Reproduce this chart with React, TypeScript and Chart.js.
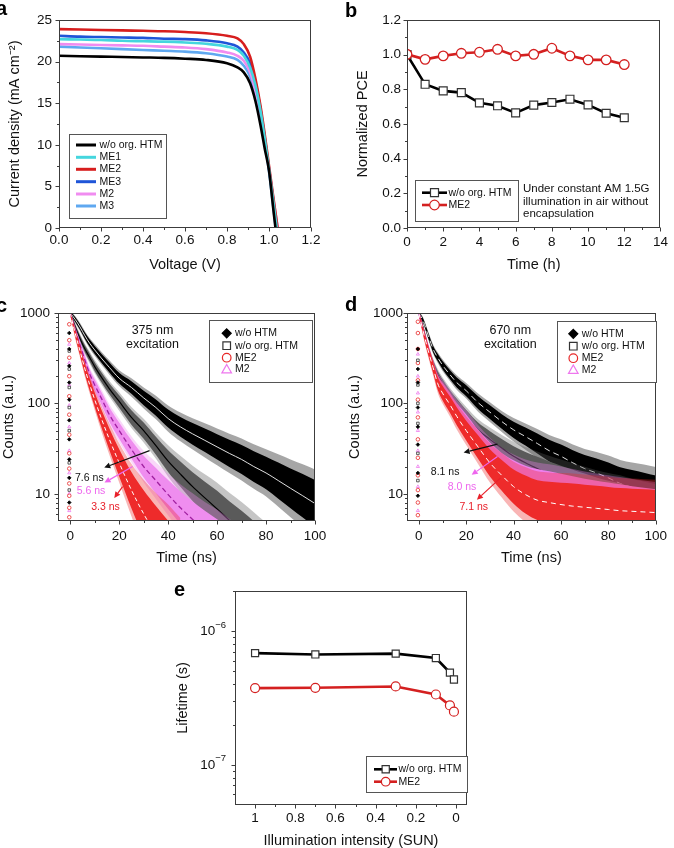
import React, { useEffect, useRef } from 'react';
import { Chart, registerables } from 'chart.js';
Chart.register(...registerables);

const FONT = "'Liberation Sans', Arial, Helvetica, sans-serif";

// ---------------- Panel a: J-V curves ----------------
const VOLT = [0, 0.1, 0.2, 0.3, 0.4, 0.5, 0.6, 0.7, 0.8, 0.85, 0.88, 0.91, 0.935, 0.96, 0.98, 1.0, 1.02, 1.04, 1.06];
const J_WO = [20.7, 20.65, 20.6, 20.55, 20.5, 20.45, 20.35, 20.2, 19.8, 19.3, 18.7, 17.4, 15.3, 12.3, 9.5, 6.9, 2.4, -2, -6];
const J_ME1 = [22.7, 22.65, 22.6, 22.5, 22.45, 22.4, 22.3, 22.15, 21.8, 21.4, 20.7, 19.3, 17.2, 14.0, 10.7, 7.1, 3.3, -0.6, -4.5];
const J_ME2 = [23.9, 23.85, 23.8, 23.75, 23.7, 23.65, 23.55, 23.4, 23.1, 22.8, 22.1, 20.6, 18.0, 14.6, 11.2, 7.5, 3.8, 0.2, -3.5];
const J_ME3 = [23.1, 23.0, 22.95, 22.9, 22.85, 22.75, 22.7, 22.55, 22.2, 21.8, 21.1, 19.8, 17.6, 14.2, 10.8, 7.2, 3.4, -0.8, -4.8];
const J_M2 = [22.1, 22.05, 22.0, 21.95, 21.9, 21.8, 21.7, 21.5, 21.1, 20.7, 20.1, 18.7, 16.5, 13.5, 10.4, 7.1, 3.6, 0.3, -3];
const J_M3 = [21.8, 21.7, 21.6, 21.5, 21.4, 21.3, 21.2, 21.0, 20.6, 20.2, 19.5, 18.2, 16.0, 13.3, 10.3, 6.8, 2.6, -1.5, -5];
const JV_LABELS = ['w/o org. HTM', 'ME1', 'ME2', 'ME3', 'M2', 'M3'];
const JV_X_TICKS = [0, 0.2, 0.4, 0.6, 0.8, 1.0, 1.2];
const JV_Y_TICKS = [0, 5, 10, 15, 20, 25];

// ---------------- Panel b: stability ----------------
const HOURS = [0, 1, 2, 3, 4, 5, 6, 7, 8, 9, 10, 11, 12];
const PCE_WO = [1.0, 0.829, 0.791, 0.781, 0.722, 0.705, 0.664, 0.709, 0.724, 0.743, 0.71, 0.662, 0.636];
const PCE_ME2 = [1.002, 0.973, 0.993, 1.008, 1.014, 1.031, 0.993, 1.002, 1.037, 0.993, 0.97, 0.97, 0.943];
const B_X_TICKS = [0, 2, 4, 6, 8, 10, 12, 14];
const B_Y_TICKS = [0, 0.2, 0.4, 0.6, 0.8, 1.0, 1.2];
const B_NOTE = ['Under constant AM 1.5G', 'illumination in air without', 'encapsulation'];

// ---------------- Panels c, d: TRPL ----------------
const TPL = [0, 2, 4, 6, 8, 10, 13, 16, 20, 25, 30, 35, 40, 45, 50, 55, 60, 65, 70, 75, 80, 85, 90, 95, 100];
const N = null;
// panel c (375 nm): decay centre and noise half-width (decades)
const C_WO_HTM = [1000, 850, 700, 560, 460, 390, 310, 250, 190, 150, 115, 90, 68, 55, 46, 39, 33, 28, 24, 20, 17, 14, 11.5, 9.5, 7.8];
const C_WO_HTM_W = [0.02, 0.025, 0.03, 0.035, 0.04, 0.045, 0.05, 0.055, 0.06, 0.07, 0.08, 0.09, 0.1, 0.11, 0.12, 0.13, 0.14, 0.15, 0.16, 0.17, 0.18, 0.2, 0.22, 0.24, 0.26];
const C_WO_ORG = [1000, 700, 520, 400, 320, 255, 190, 145, 105, 70, 50, 34, 23, 16.5, 12, 9, 6.8, 5.1, 3.9, 3, 2.3, 1.8, 1.4, 1.1, 0.85];
const C_WO_ORG_W = [0.02, 0.03, 0.035, 0.04, 0.045, 0.05, 0.055, 0.06, 0.07, 0.08, 0.09, 0.1, 0.12, 0.14, 0.16, 0.18, 0.2, 0.21, 0.22, 0.22, 0.22, 0.22, 0.22, 0.22, 0.22];
const C_ME2 = [1000, 600, 380, 240, 160, 110, 65, 40, 22, 11, 6, 3.5, 2, 1.2, N, N, N, N, N, N, N, N, N, N, N];
const C_ME2_W = [0.02, 0.04, 0.05, 0.06, 0.07, 0.08, 0.1, 0.12, 0.15, 0.2, 0.26, 0.32, 0.4, 0.45, N, N, N, N, N, N, N, N, N, N, N];
const C_M2 = [1000, 650, 440, 300, 210, 160, 110, 75, 50, 31, 20, 14, 9.8, 7, 5.2, 3.9, 3, 2.3, 1.8, N, N, N, N, N, N];
const C_M2_W = [0.02, 0.03, 0.04, 0.05, 0.05, 0.06, 0.07, 0.08, 0.09, 0.1, 0.12, 0.14, 0.16, 0.18, 0.2, 0.22, 0.24, 0.25, 0.25, N, N, N, N, N, N];
// panel d (670 nm)
const D_WO_HTM = [1000, 800, 560, 400, 320, 265, 210, 170, 138, 102, 80, 63, 51, 43, 36, 30, 26, 22, 19, 17, 15, 13, 11.8, 10.8, 9.8];
const D_WO_HTM_W = [0.02, 0.025, 0.03, 0.035, 0.04, 0.045, 0.05, 0.055, 0.06, 0.07, 0.075, 0.08, 0.09, 0.1, 0.11, 0.12, 0.13, 0.14, 0.15, 0.16, 0.17, 0.18, 0.19, 0.2, 0.21];
const D_WO_ORG = [1000, 650, 400, 275, 205, 165, 125, 98, 72, 51, 40, 32, 26, 22, 19, 16.5, 14.5, 12.8, 11.3, 10, 9, 8.2, 7.5, 7, 6.6];
const D_WO_ORG_W = [0.02, 0.03, 0.035, 0.04, 0.045, 0.05, 0.055, 0.06, 0.07, 0.08, 0.09, 0.1, 0.11, 0.12, 0.13, 0.14, 0.15, 0.16, 0.17, 0.18, 0.19, 0.2, 0.2, 0.2, 0.2];
const D_ME2 = [1000, 600, 380, 250, 165, 130, 98, 72, 50, 33, 22, 16, 12, 9.8, 8.5, 8, 7.6, 7.3, 7.1, 6.9, 6.7, 6.5, 6.4, 6.3, 6.2];
const D_ME2_W = [0.02, 0.04, 0.05, 0.06, 0.07, 0.08, 0.09, 0.1, 0.11, 0.13, 0.15, 0.17, 0.19, 0.21, 0.22, 0.23, 0.24, 0.25, 0.25, 0.25, 0.25, 0.25, 0.25, 0.25, 0.25];
const D_M2 = [1000, 620, 400, 260, 180, 145, 110, 82, 60, 40, 28, 21, 17, 14.5, 13, 12, 11, 10.3, 9.7, 9.2, 8.8, 8.4, 8, 7.7, 7.4];
const D_M2_W = [0.02, 0.03, 0.04, 0.05, 0.06, 0.07, 0.08, 0.09, 0.1, 0.11, 0.12, 0.13, 0.14, 0.15, 0.16, 0.17, 0.18, 0.18, 0.18, 0.18, 0.18, 0.18, 0.18, 0.18, 0.18];
// rising-edge points near t = 0
const SPIKE_T = -0.4;
const SPK_C_WO_HTM = [8, 15, 24, 40, 65, 110, 170, 260, 400, 600];
const SPK_C_WO_ORG = [11, 22, 50, 90, 150, 240, 380];
const SPK_C_ME2 = [5.5, 7, 9.5, 13, 19, 28, 45, 75, 120, 200, 320, 500, 750];
const SPK_C_M2 = [6.5, 10, 17, 30, 55, 95, 160, 280, 450];
const SPK_D_WO_HTM = [9.5, 17, 35, 55, 90, 170, 240, 400];
const SPK_D_WO_ORG = [14, 28, 60, 100, 160, 300];
const SPK_D_ME2 = [5.8, 8, 11, 16, 25, 40, 70, 110, 180, 280, 400, 600, 800];
const SPK_D_M2 = [6.5, 12, 20, 30, 50, 80, 130, 200, 350];
const TRPL_LABELS = ['w/o HTM', 'w/o org. HTM', 'ME2', 'M2'];
const TRPL_X_TICKS = [0, 20, 40, 60, 80, 100];
const TRPL_Y_TICKS = [10, 100, 1000];
const TRPL_Y_MINOR = [6, 7, 8, 9, 20, 30, 40, 50, 60, 70, 80, 90, 200, 300, 400, 500, 600, 700, 800, 900];
const TRPL_X_MINOR = [10, 30, 50, 70, 90];
const C_ARROWS = [
  { from: [32.4, 30], to: [13.9, 19.5], label: '7.6 ns', at: [7.8, 15.1], color: '#111111', text: '#111111' },
  { from: [25.5, 20], to: [14, 13.3], label: '5.6 ns', at: [8.5, 10.6], color: '#ee66ee', text: '#ee66ee' },
  { from: [21.4, 12], to: [18, 9], label: '3.3 ns', at: [14.4, 7.1], color: '#e8202a', text: '#e8202a' },
];
const D_ARROWS = [
  { from: [33.2, 35.4], to: [18.9, 28.6], label: '8.1 ns', at: [11.1, 17.5], color: '#111111', text: '#111111' },
  { from: [33.2, 25.8], to: [22.3, 16.2], label: '8.0 ns', at: [18.2, 12], color: '#ee66ee', text: '#ee66ee' },
  { from: [34.5, 15], to: [24.5, 8.6], label: '7.1 ns', at: [23.2, 7.2], color: '#e8202a', text: '#e8202a' },
];

// ---------------- Panel e: lifetime ----------------
const SUN = [1, 0.7, 0.3, 0.1, 0.03, 0.01];
const LIFE_WO = [6.85e-7, 6.7e-7, 6.8e-7, 6.3e-7, 4.9e-7, 4.35e-7];
const LIFE_ME2 = [3.75e-7, 3.77e-7, 3.86e-7, 3.36e-7, 2.78e-7, 2.5e-7];
const E_X_TICKS = [1, 0.8, 0.6, 0.4, 0.2, 0];
const E_Y_TICKS = [1e-7, 1e-6];
const E_Y_EXP = ['−7', '−6'];
const E_Y_MINOR = [6e-8, 7e-8, 8e-8, 9e-8, 2e-7, 3e-7, 4e-7, 5e-7, 6e-7, 7e-7, 8e-7, 9e-7, 2e-6];

// ---------------- helpers ----------------
function mkScale(o: any) {
  return {
    type: o.type || 'linear',
    min: o.min,
    max: o.max,
    reverse: !!o.reverse,
    afterBuildTicks: (s: any) => { s.ticks = o.ticks.map((v: number) => ({ value: v })); },
    afterFit: (s: any) => { if (o.isY) s.width = o.size; else s.height = o.size; },
    grid: { display: false, drawTicks: false },
    border: { display: false },
    ticks: {
      padding: o.pad, color: '#111', autoSkip: false, maxRotation: 0, minRotation: 0,
      font: { family: FONT, size: 13.5 },
      callback: (v: any) => o.fmt(Number(v)),
    },
    title: {
      display: true, text: o.title, color: '#111', font: { family: FONT, size: 14.5 },
      padding: o.isY ? { top: o.titlePad, bottom: 0 } : { top: 0, bottom: o.titlePad },
    },
  };
}

function baseOptions(padding: any, x: any, y: any) {
  return {
    responsive: false,
    animation: false,
    events: [],
    layout: { padding },
    plugins: { legend: { display: false }, tooltip: { enabled: false } },
    scales: { x, y },
  };
}

function frameTicks(xMaj: number[], xMin: number[], yMaj: number[], yMin: number[]) {
  return {
    id: 'frameTicks',
    afterDatasetsDraw(chart: any) {
      const { ctx, chartArea: a, scales } = chart;
      const xs = scales.x, ys = scales.y;
      const L = Math.round(a.left) + 0.5, R = Math.round(a.right) - 0.5;
      const T = Math.round(a.top) + 0.5, B = Math.round(a.bottom) - 0.5;
      ctx.save();
      ctx.strokeStyle = '#3c3c3c';
      ctx.lineWidth = 1;
      ctx.strokeRect(L, T, R - L, B - T);
      ctx.beginPath();
      xMaj.forEach((v) => { const p = Math.round(xs.getPixelForValue(v)) + 0.5; ctx.moveTo(p, B); ctx.lineTo(p, B + 4); });
      xMin.forEach((v) => { const p = Math.round(xs.getPixelForValue(v)) + 0.5; ctx.moveTo(p, B); ctx.lineTo(p, B + 2.5); });
      yMaj.forEach((v) => { const p = Math.round(ys.getPixelForValue(v)) + 0.5; ctx.moveTo(L, p); ctx.lineTo(L - 4, p); });
      yMin.forEach((v) => { const p = Math.round(ys.getPixelForValue(v)) + 0.5; ctx.moveTo(L, p); ctx.lineTo(L - 2.5, p); });
      ctx.stroke();
      ctx.restore();
    },
  };
}

function drawMarker(ctx: any, kind: string, x: number, y: number, color: string, fill: string | null, s: number) {
  ctx.save();
  ctx.beginPath();
  if (kind === 'square') ctx.rect(x - s, y - s, 2 * s, 2 * s);
  else if (kind === 'circle') ctx.arc(x, y, s, 0, Math.PI * 2);
  else if (kind === 'diamond') { ctx.moveTo(x, y - s); ctx.lineTo(x + s, y); ctx.lineTo(x, y + s); ctx.lineTo(x - s, y); ctx.closePath(); }
  else if (kind === 'triangle') { ctx.moveTo(x, y - s); ctx.lineTo(x + s, y + s * 0.75); ctx.lineTo(x - s, y + s * 0.75); ctx.closePath(); }
  if (fill) { ctx.fillStyle = fill; ctx.fill(); }
  ctx.strokeStyle = color; ctx.lineWidth = 1.2; ctx.stroke();
  ctx.restore();
}

function legendBox(ctx: any, x0: number, y0: number, x1: number, y1: number) {
  ctx.save();
  ctx.fillStyle = '#ffffff';
  ctx.fillRect(x0, y0, x1 - x0, y1 - y0);
  ctx.strokeStyle = '#555';
  ctx.lineWidth = 1;
  ctx.strokeRect(Math.round(x0) + 0.5, Math.round(y0) + 0.5, Math.round(x1 - x0), Math.round(y1 - y0));
  ctx.restore();
}

function text(ctx: any, s: string, x: number, y: number, size: number, color: string, align: string) {
  ctx.save();
  ctx.font = `${size}px ${FONT}`;
  ctx.fillStyle = color;
  ctx.textAlign = align;
  ctx.textBaseline = 'middle';
  ctx.fillText(s, x, y);
  ctx.restore();
}

function arrow(ctx: any, x1: number, y1: number, x2: number, y2: number, color: string) {
  const ang = Math.atan2(y2 - y1, x2 - x1);
  const hl = 6, hw = 3;
  const bx = x2 - hl * Math.cos(ang), by = y2 - hl * Math.sin(ang);
  ctx.save();
  ctx.strokeStyle = color; ctx.fillStyle = color; ctx.lineWidth = 1.2;
  ctx.beginPath(); ctx.moveTo(x1, y1); ctx.lineTo(bx, by); ctx.stroke();
  ctx.beginPath();
  ctx.moveTo(x2, y2);
  ctx.lineTo(bx - hw * Math.sin(ang), by + hw * Math.cos(ang));
  ctx.lineTo(bx + hw * Math.sin(ang), by - hw * Math.cos(ang));
  ctx.closePath(); ctx.fill();
  ctx.restore();
}

function hexA(hex: string, a: number) {
  const r = parseInt(hex.slice(1, 3), 16), g = parseInt(hex.slice(3, 5), 16), b = parseInt(hex.slice(5, 7), 16);
  return `rgba(${r},${g},${b},${a})`;
}

// ---------------- chart builders ----------------
const JV_COLORS = ['#000000', '#45d6de', '#d71e1e', '#1f55d8', '#f08cf0', '#5fa8f0'];

function makeA() {
  const series = [J_WO, J_ME1, J_ME2, J_ME3, J_M2, J_M3];
  const datasets = series.map((ys, k) => ({
    label: JV_LABELS[k],
    data: VOLT.map((v, i) => ({ x: v, y: ys[i] })),
    borderColor: JV_COLORS[k], borderWidth: 2.6, pointRadius: 0, fill: false,
    cubicInterpolationMode: 'monotone',
  }));
  const legend = {
    id: 'legA',
    afterDraw(chart: any) {
      const ctx = chart.ctx;
      legendBox(ctx, 69, 134, 166, 218);
      const rows = [145, 157.3, 169.3, 181.7, 194, 206];
      rows.forEach((ry, k) => {
        ctx.save(); ctx.strokeStyle = JV_COLORS[k]; ctx.lineWidth = 3;
        ctx.beginPath(); ctx.moveTo(76, ry); ctx.lineTo(96, ry); ctx.stroke(); ctx.restore();
        text(ctx, JV_LABELS[k], 99.5, ry, 10.5, '#111', 'left');
      });
    },
  };
  return {
    type: 'line',
    data: { datasets },
    options: baseOptions({ left: 0, top: 20, right: 26, bottom: 0 },
      mkScale({ min: 0, max: 1.2, ticks: JV_X_TICKS, fmt: (v: number) => v.toFixed(1), title: 'Voltage (V)', size: 52, isY: false, pad: 4, titlePad: 6 }),
      mkScale({ min: 0, max: 25, ticks: JV_Y_TICKS, fmt: (v: number) => String(v), title: 'Current density (mA cm⁻²)', size: 59, isY: true, pad: 7, titlePad: 6 })),
    plugins: [frameTicks(JV_X_TICKS, [0.1, 0.3, 0.5, 0.7, 0.9, 1.1], JV_Y_TICKS, [2.5, 7.5, 12.5, 17.5, 22.5]), legend],
  };
}

function makeB() {
  const datasets = [
    { label: 'ME2', data: HOURS.map((h, i) => ({ x: h, y: PCE_ME2[i] })), borderColor: '#d42020', borderWidth: 2.6,
      pointStyle: 'circle', pointRadius: 4.8, pointBorderWidth: 1.3, pointBackgroundColor: '#fff', pointBorderColor: '#d42020', fill: false, order: 0 },
    { label: 'w/o org. HTM', data: HOURS.map((h, i) => ({ x: h, y: PCE_WO[i] })), borderColor: '#000', borderWidth: 2.6,
      pointStyle: 'rect', pointRadius: 5.6, pointBorderWidth: 1.2, pointBackgroundColor: '#fff', pointBorderColor: '#333', fill: false, order: 1 },
  ];
  const legend = {
    id: 'legB',
    afterDraw(chart: any) {
      const ctx = chart.ctx;
      legendBox(ctx, 78, 180, 181, 221);
      const items = [
        { y: 192.7, c: '#000', m: 'square', mc: '#333', lab: 'w/o org. HTM', s: 4 },
        { y: 205, c: '#d42020', m: 'circle', mc: '#d42020', lab: 'ME2', s: 4.8 },
      ];
      items.forEach((it) => {
        ctx.save(); ctx.strokeStyle = it.c; ctx.lineWidth = 2.6;
        ctx.beginPath(); ctx.moveTo(85, it.y); ctx.lineTo(110, it.y); ctx.stroke(); ctx.restore();
        drawMarker(ctx, it.m, 97.5, it.y, it.mc, '#fff', it.s);
        text(ctx, it.lab, 111.5, it.y, 10.5, '#111', 'left');
      });
      [188.7, 201.7, 214.3].forEach((yy, k) => text(ctx, B_NOTE[k], 186, yy, 11.5, '#111', 'left'));
    },
  };
  return {
    type: 'line',
    data: { datasets },
    options: baseOptions({ left: 0, top: 20, right: 13, bottom: 0 },
      mkScale({ min: 0, max: 14, ticks: B_X_TICKS, fmt: (v: number) => String(v), title: 'Time (h)', size: 52, isY: false, pad: 6, titlePad: 6 }),
      mkScale({ min: 0, max: 1.2, ticks: B_Y_TICKS, fmt: (v: number) => v.toFixed(1), title: 'Normalized PCE', size: 70, isY: true, pad: 6, titlePad: 17 })),
    plugins: [frameTicks(B_X_TICKS, [1, 3, 5, 7, 9, 11, 13], B_Y_TICKS, [0.1, 0.3, 0.5, 0.7, 0.9, 1.1]), legend],
  };
}

function makeTRPL(isC: boolean) {
  const S = isC
    ? [
        { c: C_WO_HTM, w: C_WO_HTM_W, band: '#000000', fit: 'rgba(235,235,235,0.95)', dash: [], fw: 1, order: 4, spk: SPK_C_WO_HTM, ps: 'rectRot', pc: '#000', pf: '#000' },
        { c: C_WO_ORG, w: C_WO_ORG_W, band: '#5a5a5a', fit: '#000000', dash: [], fw: 1.2, order: 3, spk: SPK_C_WO_ORG, ps: 'rect', pc: '#333', pf: '#fff' },
        { c: C_ME2, w: C_ME2_W, band: '#ee2b2b', fit: '#ffffff', dash: [4, 3], fw: 1, order: 1, spk: SPK_C_ME2, ps: 'circle', pc: '#e82828', pf: '#fff' },
        { c: C_M2, w: C_M2_W, band: '#ef8def', fit: '#a020a0', dash: [5, 3], fw: 1.3, order: 2, spk: SPK_C_M2, ps: 'triangle', pc: '#ee77ee', pf: '#fff' },
      ]
    : [
        { c: D_WO_HTM, w: D_WO_HTM_W, band: '#000000', fit: 'rgba(235,235,235,0.95)', dash: [6, 4], fw: 1, order: 4, spk: SPK_D_WO_HTM, ps: 'rectRot', pc: '#000', pf: '#000' },
        { c: D_WO_ORG, w: D_WO_ORG_W, band: '#5a5a5a', fit: '#000000', dash: [], fw: 1.2, order: 3, spk: SPK_D_WO_ORG, ps: 'rect', pc: '#333', pf: '#fff' },
        { c: D_ME2, w: D_ME2_W, band: '#ee2b2b', fit: '#ffffff', dash: [5, 4], fw: 1, order: 1, spk: SPK_D_ME2, ps: 'circle', pc: '#e82828', pf: '#fff' },
        { c: D_M2, w: D_M2_W, band: '#ee80ee', fit: '#e02ee0', dash: [], fw: 1.5, order: 2, spk: SPK_D_M2, ps: 'triangle', pc: '#ee77ee', pf: '#fff' },
      ];
  const ds: any[] = [];
  const edge = (s: any, k: number) => TPL.map((t, i) => ({ x: t, y: s.c[i] == null ? null : s.c[i] * Math.pow(10, k * s.w[i]) }));
  S.forEach((s: any) => {
    // soft outer fringe (scattered noisy points) then dense core band
    [[1.45, 0.35, 0.2], [1, 1, 0.1]].forEach(([k, alpha, dOrd]) => {
      const iUp = ds.length;
      ds.push({
        data: edge(s, k), fill: iUp + 1, backgroundColor: hexA(s.band, alpha), borderWidth: 0,
        borderColor: 'rgba(0,0,0,0)', pointRadius: 0, order: s.order + dOrd, cubicInterpolationMode: 'monotone',
      });
      ds.push({
        data: edge(s, -k), fill: false, borderWidth: 0, borderColor: 'rgba(0,0,0,0)', pointRadius: 0,
        order: s.order + dOrd, cubicInterpolationMode: 'monotone',
      });
    });
    ds.push({
      data: TPL.map((t, i) => ({ x: t, y: s.c[i] })),
      fill: false, borderWidth: s.fw, borderColor: s.fit, borderDash: s.dash, pointRadius: 0,
      order: s.order - 0.5, cubicInterpolationMode: 'monotone',
    });
    ds.push({
      data: s.spk.map((v: number) => ({ x: SPIKE_T, y: v })),
      showLine: false, pointStyle: s.ps, pointRadius: 1.8, pointBorderWidth: 0.8,
      pointBorderColor: s.pc, pointBackgroundColor: s.pf, order: 0,
    });
  });
  const arrows = isC ? C_ARROWS : D_ARROWS;
  const title1 = isC ? '375 nm' : '670 nm';
  const titleT = isC ? 33.6 : 38.6;
  const lg = isC
    ? { x0: 209, y0: 35, x1: 312, y1: 97, mx: 226.7, tx: 235 }
    : { x0: 220, y0: 36, x1: 319, y1: 97, mx: 236.3, tx: 244.7 };
  const anno = {
    id: 'annoTRPL',
    afterDraw(chart: any) {
      const { ctx, scales } = chart;
      const xs = scales.x, ys = scales.y;
      const X = (v: number) => xs.getPixelForValue(v), Y = (v: number) => ys.getPixelForValue(v);
      text(ctx, title1, X(titleT), Y(637), 12.5, '#111', 'center');
      text(ctx, 'excitation', X(titleT), Y(443), 12.5, '#111', 'center');
      arrows.forEach((a: any) => {
        arrow(ctx, X(a.from[0]), Y(a.from[1]), X(a.to[0]), Y(a.to[1]), a.color);
        text(ctx, a.label, X(a.at[0]), Y(a.at[1]), 10.5, a.text, 'center');
      });
      legendBox(ctx, lg.x0, lg.y0, lg.x1, lg.y1);
      const rows = [48.3, 60.7, 72.7, 84.3].map((r) => r + (isC ? 0 : 0.5));
      drawMarker(ctx, 'diamond', lg.mx, rows[0], '#000', '#000', 4.5);
      drawMarker(ctx, 'square', lg.mx, rows[1], '#333', null, 3.8);
      drawMarker(ctx, 'circle', lg.mx, rows[2], '#e82828', null, 4.3);
      drawMarker(ctx, 'triangle', lg.mx, rows[3], '#ee77ee', null, 4.8);
      TRPL_LABELS.forEach((l, k) => text(ctx, l, lg.tx, rows[k], 10.5, '#111', 'left'));
    },
  };
  return {
    type: 'line',
    data: { datasets: ds },
    options: baseOptions(isC ? { left: 0, top: 28, right: 22, bottom: 0 } : { left: 0, top: 28, right: 11, bottom: 0 },
      mkScale({ min: -5, max: 100, ticks: TRPL_X_TICKS, fmt: (v: number) => String(v), title: 'Time (ns)', size: 49, isY: false, pad: 7, titlePad: 3.3 }),
      mkScale({ type: 'logarithmic', min: 5, max: 1000, ticks: TRPL_Y_TICKS, fmt: (v: number) => String(v), title: 'Counts (a.u.)', size: isC ? 58 : 70, isY: true, pad: isC ? 8 : 4, titlePad: isC ? 0 : 9.3 })),
    plugins: [frameTicks(TRPL_X_TICKS, TRPL_X_MINOR, TRPL_Y_TICKS, TRPL_Y_MINOR), anno],
  };
}

function makeE() {
  const datasets = [
    { label: 'ME2', data: SUN.map((s, i) => ({ x: s, y: LIFE_ME2[i] })), borderColor: '#d42020', borderWidth: 2.6,
      pointStyle: 'circle', pointRadius: 4.5, pointBorderWidth: 1.2, pointBackgroundColor: '#fff', pointBorderColor: '#d42020', fill: false, order: 0 },
    { label: 'w/o org. HTM', data: SUN.map((s, i) => ({ x: s, y: LIFE_WO[i] })), borderColor: '#000', borderWidth: 2.6,
      pointStyle: 'rect', pointRadius: 5, pointBorderWidth: 1.2, pointBackgroundColor: '#fff', pointBorderColor: '#333', fill: false, order: 1 },
  ];
  const extra = {
    id: 'legE',
    afterDraw(chart: any) {
      const ctx = chart.ctx;
      const a = chart.chartArea;
      const ys = chart.scales.y;
      // power-of-ten tick labels with superscript exponent
      E_Y_TICKS.forEach((v, k) => {
        const py = ys.getPixelForValue(v);
        ctx.save();
        ctx.font = `9.5px ${FONT}`;
        const supW = ctx.measureText(E_Y_EXP[k]).width;
        ctx.restore();
        const right = a.left - 9;
        text(ctx, '10', right - supW, py, 13.5, '#111', 'right');
        text(ctx, E_Y_EXP[k], right - supW, py - 6, 9.5, '#111', 'left');
      });
      legendBox(ctx, 216, 186, 317, 222);
      const items = [
        { y: 199.3, c: '#000', m: 'square', mc: '#333', lab: 'w/o org. HTM', s: 3.6 },
        { y: 211.7, c: '#d42020', m: 'circle', mc: '#d42020', lab: 'ME2', s: 4.3 },
      ];
      items.forEach((it) => {
        ctx.save(); ctx.strokeStyle = it.c; ctx.lineWidth = 2.6;
        ctx.beginPath(); ctx.moveTo(224, it.y); ctx.lineTo(247, it.y); ctx.stroke(); ctx.restore();
        drawMarker(ctx, it.m, 235.7, it.y, it.mc, '#fff', it.s);
        text(ctx, it.lab, 248.5, it.y, 10.5, '#111', 'left');
      });
    },
  };
  return {
    type: 'line',
    data: { datasets },
    options: baseOptions({ left: 0, top: 21, right: 20, bottom: 0 },
      mkScale({ min: -0.055, max: 1.1, reverse: true, ticks: E_X_TICKS, fmt: (v: number) => String(Number(v.toFixed(1))), title: 'Illumination intensity (SUN)', size: 45, isY: false, pad: 5.5, titlePad: 0.6 }),
      mkScale({ type: 'logarithmic', min: 5e-8, max: 2e-6, ticks: E_Y_TICKS, fmt: () => '', title: 'Lifetime (s)', size: 85, isY: true, pad: 9, titlePad: 24.6 })),
    plugins: [frameTicks(E_X_TICKS, [0.9, 0.7, 0.5, 0.3, 0.1], E_Y_TICKS, E_Y_MINOR), extra],
  };
}

function Panel({ left, top, width, height, make }: any) {
  const ref = useRef<HTMLCanvasElement>(null);
  useEffect(() => {
    const chart = new Chart(ref.current as HTMLCanvasElement, make());
    return () => chart.destroy();
  }, []);
  return <canvas ref={ref} width={width} height={height} style={{ position: 'absolute', left, top, width, height }} />;
}

const letter = (left: number, top: number): React.CSSProperties => ({
  position: 'absolute', left, top, fontFamily: FONT, fontWeight: 'bold', fontSize: 20, lineHeight: '20px', color: '#000',
});

export default function App() {
  return (
    <div style={{ position: 'fixed', left: 0, top: 0, width: 674, height: 848, background: '#fff', overflow: 'hidden' }}>
      <Panel left={0} top={0} width={337} height={280} make={makeA} />
      <Panel left={337} top={0} width={337} height={280} make={makeB} />
      <Panel left={0} top={285} width={337} height={285} make={() => makeTRPL(true)} />
      <Panel left={337} top={285} width={337} height={285} make={() => makeTRPL(false)} />
      <Panel left={150} top={570} width={337} height={280} make={makeE} />
      <div style={letter(-4, -2)}>a</div>
      <div style={letter(345, 0)}>b</div>
      <div style={letter(-4, 295)}>c</div>
      <div style={letter(345, 294)}>d</div>
      <div style={letter(174, 579)}>e</div>
    </div>
  );
}
